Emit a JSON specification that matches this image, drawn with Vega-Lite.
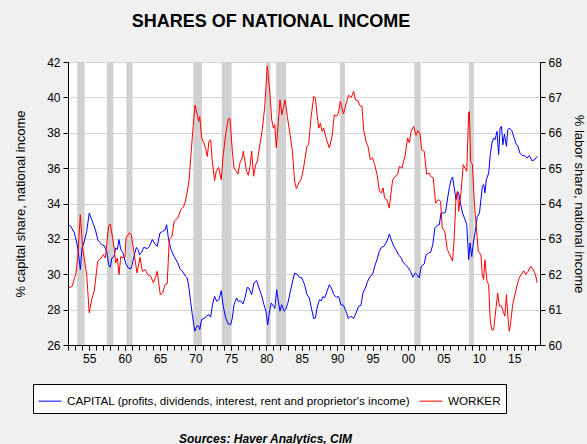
{
  "$schema": "https://vega.github.io/schema/vega-lite/v6.json",
  "width": 472,
  "height": 283,
  "autosize": "none",
  "padding": {"left": 68, "top": 62, "right": 47, "bottom": 99},
  "background": "#f0f0f0",
  "config": {
    "font": "Liberation Sans",
    "view": {"fill": "white", "stroke": "black", "strokeWidth": 1},
    "axis": {"labelFont": "Liberation Sans", "labelColor": "black", "titleColor": "black", "titleFont": "Liberation Sans", "titleFontWeight": "normal", "domainColor": "black", "tickColor": "black"}
  },
  "title": {
    "text": "SHARES OF NATIONAL INCOME",
    "font": "Liberation Sans",
    "fontSize": 18,
    "fontWeight": "bold",
    "color": "black",
    "anchor": "middle",
    "frame": "group",
    "dx": -33,
    "offset": 25
  },
  "datasets": {
    "recessions": [
      {"start": 1953.3, "end": 1954.35},
      {"start": 1957.5, "end": 1958.4},
      {"start": 1960.25, "end": 1961.1},
      {"start": 1969.7, "end": 1970.9},
      {"start": 1973.7, "end": 1975.1},
      {"start": 1979.95, "end": 1980.6},
      {"start": 1981.4, "end": 1982.8},
      {"start": 1990.4, "end": 1991.1},
      {"start": 2000.9, "end": 2001.8},
      {"start": 2008.6, "end": 2009.3}
    ],
    "capital": [
      {"t":1952.1,"v":32.8},{"t":1952.4,"v":32.71},{"t":1952.9,"v":32.33},{"t":1953.3,"v":31.67},{"t":1953.5,"v":31.1},{"t":1953.74,"v":30.26},{"t":1953.98,"v":31.49},{"t":1954.3,"v":31.86},{"t":1954.64,"v":32.43},{"t":1955.0,"v":33.46},{"t":1955.25,"v":33.2},{"t":1955.6,"v":32.8},{"t":1955.88,"v":32.5},{"t":1956.2,"v":31.96},{"t":1956.45,"v":31.8},{"t":1956.8,"v":31.67},{"t":1957.13,"v":31.6},{"t":1957.46,"v":31.3},{"t":1957.74,"v":30.54},{"t":1957.97,"v":30.4},{"t":1958.2,"v":30.92},{"t":1958.5,"v":31.0},{"t":1958.73,"v":31.49},{"t":1958.97,"v":31.4},{"t":1959.2,"v":31.96},{"t":1959.45,"v":31.4},{"t":1959.77,"v":31.2},{"t":1960.13,"v":30.64},{"t":1960.5,"v":30.36},{"t":1960.85,"v":30.3},{"t":1961.07,"v":30.54},{"t":1961.3,"v":31.0},{"t":1961.65,"v":31.52},{"t":1961.93,"v":31.35},{"t":1962.1,"v":31.1},{"t":1962.4,"v":31.25},{"t":1962.7,"v":31.52},{"t":1963.2,"v":31.45},{"t":1963.5,"v":31.58},{"t":1963.9,"v":31.96},{"t":1964.3,"v":31.7},{"t":1964.6,"v":31.58},{"t":1964.98,"v":32.33},{"t":1965.36,"v":32.43},{"t":1965.7,"v":32.5},{"t":1965.93,"v":32.8},{"t":1966.2,"v":31.96},{"t":1966.54,"v":31.39},{"t":1967.0,"v":31.0},{"t":1967.5,"v":30.64},{"t":1967.86,"v":30.26},{"t":1968.2,"v":30.15},{"t":1968.56,"v":29.9},{"t":1968.85,"v":29.79},{"t":1969.08,"v":29.22},{"t":1969.3,"v":28.47},{"t":1969.55,"v":27.72},{"t":1969.9,"v":26.78},{"t":1970.17,"v":27.06},{"t":1970.4,"v":27.1},{"t":1970.6,"v":26.87},{"t":1970.87,"v":27.44},{"t":1971.2,"v":27.5},{"t":1971.56,"v":27.63},{"t":1971.9,"v":27.72},{"t":1972.14,"v":27.57},{"t":1972.4,"v":28.28},{"t":1972.7,"v":28.75},{"t":1973.0,"v":28.47},{"t":1973.3,"v":28.56},{"t":1973.64,"v":29.07},{"t":1973.92,"v":28.19},{"t":1974.26,"v":27.53},{"t":1974.63,"v":27.19},{"t":1974.97,"v":27.15},{"t":1975.2,"v":27.53},{"t":1975.44,"v":28.28},{"t":1975.8,"v":28.66},{"t":1976.05,"v":28.47},{"t":1976.37,"v":28.5},{"t":1976.7,"v":28.32},{"t":1976.98,"v":28.66},{"t":1977.3,"v":29.26},{"t":1977.55,"v":29.22},{"t":1977.93,"v":28.85},{"t":1978.26,"v":29.51},{"t":1978.64,"v":29.64},{"t":1978.97,"v":29.22},{"t":1979.3,"v":28.85},{"t":1979.67,"v":28.28},{"t":1979.95,"v":27.91},{"t":1980.2,"v":27.15},{"t":1980.42,"v":27.81},{"t":1980.7,"v":28.38},{"t":1981.0,"v":28.19},{"t":1981.2,"v":28.06},{"t":1981.46,"v":29.13},{"t":1981.7,"v":28.47},{"t":1981.93,"v":27.91},{"t":1982.17,"v":28.28},{"t":1982.5,"v":27.91},{"t":1982.73,"v":28.0},{"t":1983.05,"v":28.38},{"t":1983.4,"v":29.04},{"t":1983.73,"v":29.64},{"t":1984.0,"v":30.07},{"t":1984.3,"v":30.02},{"t":1984.65,"v":29.83},{"t":1985.0,"v":29.8},{"t":1985.4,"v":29.41},{"t":1985.74,"v":28.85},{"t":1986.07,"v":28.66},{"t":1986.36,"v":28.09},{"t":1986.69,"v":27.49},{"t":1986.93,"v":27.53},{"t":1987.16,"v":28.09},{"t":1987.5,"v":28.56},{"t":1987.77,"v":28.5},{"t":1988.0,"v":28.75},{"t":1988.24,"v":28.66},{"t":1988.57,"v":29.04},{"t":1988.9,"v":29.41},{"t":1989.19,"v":29.22},{"t":1989.52,"v":28.85},{"t":1989.9,"v":28.7},{"t":1990.2,"v":28.75},{"t":1990.53,"v":28.28},{"t":1990.9,"v":28.24},{"t":1991.24,"v":27.91},{"t":1991.6,"v":27.49},{"t":1991.95,"v":27.63},{"t":1992.33,"v":27.49},{"t":1992.66,"v":27.81},{"t":1993.03,"v":28.19},{"t":1993.36,"v":28.24},{"t":1993.64,"v":28.94},{"t":1993.98,"v":29.22},{"t":1994.3,"v":29.6},{"t":1994.68,"v":29.89},{"t":1995.0,"v":29.98},{"t":1995.3,"v":30.45},{"t":1995.63,"v":30.83},{"t":1995.96,"v":31.3},{"t":1996.25,"v":31.52},{"t":1996.6,"v":31.58},{"t":1996.9,"v":31.77},{"t":1997.2,"v":32.05},{"t":1997.36,"v":32.28},{"t":1997.64,"v":31.96},{"t":1997.98,"v":31.58},{"t":1998.3,"v":31.39},{"t":1998.7,"v":31.07},{"t":1999.0,"v":30.96},{"t":1999.3,"v":30.69},{"t":1999.62,"v":30.54},{"t":2000.0,"v":30.39},{"t":2000.34,"v":30.17},{"t":2000.7,"v":29.83},{"t":2001.04,"v":30.07},{"t":2001.27,"v":29.98},{"t":2001.6,"v":29.79},{"t":2001.88,"v":30.45},{"t":2002.28,"v":30.58},{"t":2002.56,"v":31.1},{"t":2002.9,"v":31.2},{"t":2003.2,"v":31.25},{"t":2003.5,"v":31.67},{"t":2003.8,"v":32.62},{"t":2004.14,"v":32.77},{"t":2004.42,"v":32.8},{"t":2004.66,"v":33.46},{"t":2005.0,"v":33.46},{"t":2005.3,"v":33.5},{"t":2005.6,"v":34.31},{"t":2005.88,"v":34.97},{"t":2006.1,"v":35.35},{"t":2006.3,"v":35.5},{"t":2006.53,"v":34.88},{"t":2006.78,"v":34.22},{"t":2007.0,"v":34.69},{"t":2007.2,"v":34.5},{"t":2007.45,"v":33.94},{"t":2007.7,"v":33.46},{"t":2008.06,"v":33.09},{"t":2008.3,"v":32.8},{"t":2008.57,"v":30.83},{"t":2008.76,"v":31.77},{"t":2009.0,"v":31.0},{"t":2009.2,"v":31.67},{"t":2009.5,"v":32.43},{"t":2009.8,"v":33.28},{"t":2010.1,"v":33.46},{"t":2010.3,"v":34.22},{"t":2010.5,"v":34.97},{"t":2010.7,"v":35.07},{"t":2010.87,"v":34.6},{"t":2011.06,"v":35.35},{"t":2011.4,"v":35.73},{"t":2011.62,"v":36.76},{"t":2011.86,"v":37.42},{"t":2012.1,"v":37.7},{"t":2012.3,"v":37.61},{"t":2012.57,"v":38.08},{"t":2012.8,"v":36.76},{"t":2013.0,"v":38.27},{"t":2013.2,"v":38.36},{"t":2013.4,"v":37.32},{"t":2013.62,"v":37.93},{"t":2013.9,"v":37.23},{"t":2014.1,"v":38.17},{"t":2014.3,"v":38.27},{"t":2014.66,"v":38.12},{"t":2015.0,"v":37.7},{"t":2015.3,"v":37.32},{"t":2015.5,"v":37.28},{"t":2015.8,"v":36.85},{"t":2016.14,"v":36.71},{"t":2016.5,"v":36.7},{"t":2016.8,"v":36.57},{"t":2017.15,"v":36.71},{"t":2017.5,"v":36.42},{"t":2017.9,"v":36.48},{"t":2018.24,"v":36.67}
    ],
    "worker": [
      {"t":1952.1,"v":61.61},{"t":1952.6,"v":61.66},{"t":1952.9,"v":61.89},{"t":1953.1,"v":61.99},{"t":1953.37,"v":62.46},{"t":1953.74,"v":63.68},{"t":1954.07,"v":62.74},{"t":1954.64,"v":61.99},{"t":1955.0,"v":60.91},{"t":1955.39,"v":61.33},{"t":1955.7,"v":61.52},{"t":1956.2,"v":62.37},{"t":1956.66,"v":62.46},{"t":1956.98,"v":62.55},{"t":1957.27,"v":62.46},{"t":1957.74,"v":63.36},{"t":1957.97,"v":63.42},{"t":1958.3,"v":63.03},{"t":1958.5,"v":62.74},{"t":1958.73,"v":62.32},{"t":1958.97,"v":62.46},{"t":1959.2,"v":61.99},{"t":1959.45,"v":62.5},{"t":1959.77,"v":62.46},{"t":1960.05,"v":62.48},{"t":1960.2,"v":63.03},{"t":1960.66,"v":63.17},{"t":1960.94,"v":63.12},{"t":1961.36,"v":62.55},{"t":1961.74,"v":62.04},{"t":1962.17,"v":62.48},{"t":1962.5,"v":62.08},{"t":1962.9,"v":62.13},{"t":1963.25,"v":61.99},{"t":1963.7,"v":61.94},{"t":1964.05,"v":61.76},{"t":1964.4,"v":61.94},{"t":1964.6,"v":62.08},{"t":1965.03,"v":61.42},{"t":1965.36,"v":61.47},{"t":1965.7,"v":61.71},{"t":1966.0,"v":61.73},{"t":1966.3,"v":62.98},{"t":1966.68,"v":63.08},{"t":1967.0,"v":63.5},{"t":1967.5,"v":63.59},{"t":1967.95,"v":63.83},{"t":1968.3,"v":63.9},{"t":1968.56,"v":64.05},{"t":1968.85,"v":64.35},{"t":1969.08,"v":64.63},{"t":1969.4,"v":65.48},{"t":1969.69,"v":66.23},{"t":1969.93,"v":66.78},{"t":1970.26,"v":66.51},{"t":1970.45,"v":66.32},{"t":1970.6,"v":66.46},{"t":1970.87,"v":65.85},{"t":1971.2,"v":65.71},{"t":1971.44,"v":65.55},{"t":1971.67,"v":65.33},{"t":1971.9,"v":65.76},{"t":1972.14,"v":65.8},{"t":1972.37,"v":65.19},{"t":1972.7,"v":64.65},{"t":1972.93,"v":64.91},{"t":1973.26,"v":65.02},{"t":1973.64,"v":64.67},{"t":1973.92,"v":65.38},{"t":1974.26,"v":65.95},{"t":1974.63,"v":66.39},{"t":1974.87,"v":66.4},{"t":1975.2,"v":65.48},{"t":1975.44,"v":65.0},{"t":1975.77,"v":64.91},{"t":1976.0,"v":64.83},{"t":1976.28,"v":65.15},{"t":1976.6,"v":65.29},{"t":1976.75,"v":65.48},{"t":1976.98,"v":65.19},{"t":1977.2,"v":64.91},{"t":1977.46,"v":64.8},{"t":1977.7,"v":65.05},{"t":1977.93,"v":65.48},{"t":1978.2,"v":64.77},{"t":1978.5,"v":65.1},{"t":1978.74,"v":65.2},{"t":1979.06,"v":65.62},{"t":1979.43,"v":66.09},{"t":1979.76,"v":66.7},{"t":1980.14,"v":67.88},{"t":1980.52,"v":67.08},{"t":1980.76,"v":66.37},{"t":1981.0,"v":66.13},{"t":1981.2,"v":66.23},{"t":1981.41,"v":65.57},{"t":1981.7,"v":66.32},{"t":1981.93,"v":66.93},{"t":1982.2,"v":66.51},{"t":1982.64,"v":66.93},{"t":1982.97,"v":66.46},{"t":1983.35,"v":65.95},{"t":1983.68,"v":65.48},{"t":1984.0,"v":64.63},{"t":1984.24,"v":64.42},{"t":1984.6,"v":64.58},{"t":1984.95,"v":64.7},{"t":1985.22,"v":64.96},{"t":1985.74,"v":65.62},{"t":1985.98,"v":65.67},{"t":1986.31,"v":66.42},{"t":1986.69,"v":67.03},{"t":1986.93,"v":66.98},{"t":1987.16,"v":66.51},{"t":1987.4,"v":66.13},{"t":1987.63,"v":66.27},{"t":1987.87,"v":66.04},{"t":1988.1,"v":66.13},{"t":1988.43,"v":65.85},{"t":1988.9,"v":65.57},{"t":1989.28,"v":65.9},{"t":1989.6,"v":66.51},{"t":1989.88,"v":66.46},{"t":1990.2,"v":66.56},{"t":1990.44,"v":66.89},{"t":1990.68,"v":66.7},{"t":1990.9,"v":66.53},{"t":1991.24,"v":66.8},{"t":1991.6,"v":67.06},{"t":1992.0,"v":67.0},{"t":1992.33,"v":67.17},{"t":1992.57,"v":66.93},{"t":1992.94,"v":66.9},{"t":1993.27,"v":66.75},{"t":1993.5,"v":66.75},{"t":1993.74,"v":66.09},{"t":1994.07,"v":65.76},{"t":1994.35,"v":65.62},{"t":1994.68,"v":65.24},{"t":1995.0,"v":65.29},{"t":1995.3,"v":65.1},{"t":1995.63,"v":64.82},{"t":1995.96,"v":64.35},{"t":1996.25,"v":64.3},{"t":1996.48,"v":64.44},{"t":1996.7,"v":64.16},{"t":1997.03,"v":64.11},{"t":1997.36,"v":63.87},{"t":1997.64,"v":64.35},{"t":1997.84,"v":64.67},{"t":1998.2,"v":64.77},{"t":1998.54,"v":64.82},{"t":1998.78,"v":65.05},{"t":1999.15,"v":65.0},{"t":1999.62,"v":65.38},{"t":1999.95,"v":65.85},{"t":2000.2,"v":65.71},{"t":2000.43,"v":66.04},{"t":2000.8,"v":66.18},{"t":2001.13,"v":65.93},{"t":2001.41,"v":66.06},{"t":2001.7,"v":65.96},{"t":2001.94,"v":65.52},{"t":2002.28,"v":65.48},{"t":2002.64,"v":64.83},{"t":2003.0,"v":64.86},{"t":2003.2,"v":64.77},{"t":2003.57,"v":64.72},{"t":2003.9,"v":64.01},{"t":2004.28,"v":64.11},{"t":2004.6,"v":64.06},{"t":2004.84,"v":63.31},{"t":2005.2,"v":63.21},{"t":2005.55,"v":62.7},{"t":2005.9,"v":62.55},{"t":2006.3,"v":62.37},{"t":2006.53,"v":63.03},{"t":2006.78,"v":64.16},{"t":2007.0,"v":64.35},{"t":2007.16,"v":63.78},{"t":2007.45,"v":64.25},{"t":2007.81,"v":65.1},{"t":2008.06,"v":65.0},{"t":2008.3,"v":64.91},{"t":2008.57,"v":66.56},{"t":2008.67,"v":66.6},{"t":2008.85,"v":65.19},{"t":2009.1,"v":65.1},{"t":2009.36,"v":64.06},{"t":2009.7,"v":63.21},{"t":2009.93,"v":62.65},{"t":2010.3,"v":62.55},{"t":2010.49,"v":61.99},{"t":2010.68,"v":61.85},{"t":2010.87,"v":62.41},{"t":2011.15,"v":61.8},{"t":2011.39,"v":61.71},{"t":2011.62,"v":60.67},{"t":2011.86,"v":60.43},{"t":2012.1,"v":60.43},{"t":2012.38,"v":60.96},{"t":2012.67,"v":61.47},{"t":2012.9,"v":61.1},{"t":2013.2,"v":61.1},{"t":2013.43,"v":60.96},{"t":2013.67,"v":60.82},{"t":2013.9,"v":61.42},{"t":2014.14,"v":60.73},{"t":2014.3,"v":60.39},{"t":2014.5,"v":60.63},{"t":2014.78,"v":61.14},{"t":2015.1,"v":61.42},{"t":2015.43,"v":61.71},{"t":2015.7,"v":61.89},{"t":2016.0,"v":62.0},{"t":2016.35,"v":62.1},{"t":2016.63,"v":62.0},{"t":2016.96,"v":62.08},{"t":2017.34,"v":62.23},{"t":2017.67,"v":62.13},{"t":2018.0,"v":61.99},{"t":2018.24,"v":61.76}
    ]
  },
  "layer": [
    {
      "data": {"name": "recessions"},
      "mark": {"type": "rect", "color": "#d0d0d0"},
      "encoding": {
        "x": {
          "field": "start", "type": "quantitative",
          "scale": {"domain": [1952, 2018.64], "nice": false, "zero": false},
          "axis": {
            "orient": "bottom",
            "title": null,
            "values": [1952,1953,1954,1955,1956,1957,1958,1959,1960,1961,1962,1963,1964,1965,1966,1967,1968,1969,1970,1971,1972,1973,1974,1975,1976,1977,1978,1979,1980,1981,1982,1983,1984,1985,1986,1987,1988,1989,1990,1991,1992,1993,1994,1995,1996,1997,1998,1999,2000,2001,2002,2003,2004,2005,2006,2007,2008,2009,2010,2011,2012,2013,2014,2015,2016,2017,2018],
            "labels": false, "tickSize": 5, "grid": false
          }
        },
        "x2": {"field": "end"}
      }
    },
    {
      "data": {"name": "capital"},
      "transform": [{"calculate": "'CAPITAL (profits, dividends, interest, rent and proprietor\\'s income)'", "as": "series"}],
      "mark": {"type": "line", "strokeWidth": 1},
      "encoding": {
        "x": {
          "field": "t", "type": "quantitative",
          "axis": {
            "orient": "bottom",
            "title": "Sources:  Haver Analytics, CIM",
            "titleFontSize": 12, "titleFontStyle": "italic", "titleFontWeight": "bold",
            "titleX": 197, "titleY": 97, "titleBaseline": "alphabetic", "titleAlign": "center", "titleAnchor": null,
            "values": [1955,1960,1965,1970,1975,1980,1985,1990,1995,2000,2005,2010,2015],
            "labelExpr": "substring(toString(datum.value), 2)",
            "labelOverlap": false, "labelFlush": false, "labelFontSize": 12, "labelPadding": 3,
            "tickSize": 5, "grid": false
          }
        },
        "y": {
          "field": "v", "type": "quantitative",
          "scale": {"domain": [26, 42], "nice": false, "zero": false},
          "axis": {"title": "% capital share, national income", "orient": "left", "values": [26,28,30,32,34,36,38,40,42], "grid": true, "gridColor": "#d4d4d4", "labelFontSize": 12, "tickSize": 5, "labelPadding": 3, "titleFontSize": 13, "titlePadding": 19}
        },
        "color": {
          "field": "series", "type": "nominal",
          "scale": {"domain": ["CAPITAL (profits, dividends, interest, rent and proprietor's income)", "WORKER"], "range": ["#0000ff", "#ff0000"]},
          "legend": {"orient": "none", "legendX": -35, "legendY": 322, "direction": "horizontal", "title": null, "fillColor": "white", "strokeColor": "black", "padding": 5, "symbolType": "stroke", "symbolSize": 529, "symbolStrokeWidth": 1, "labelFont": "Liberation Sans", "labelFontSize": 11.7, "labelColor": "black", "labelOffset": 5, "columnPadding": 6, "labelLimit": 600}
        }
      }
    },
    {
      "data": {"name": "worker"},
      "transform": [{"calculate": "'WORKER'", "as": "series"}],
      "mark": {"type": "line", "strokeWidth": 1},
      "encoding": {
        "x": {"field": "t", "type": "quantitative", "axis": null},
        "y": {
          "field": "v", "type": "quantitative",
          "scale": {"domain": [60, 68], "nice": false, "zero": false},
          "axis": {"title": "% labor share, national income", "orient": "right", "values": [60,61,62,63,64,65,66,67,68], "grid": false, "labelFontSize": 12, "tickSize": 5, "labelPadding": 3, "titleFontSize": 13, "titlePadding": 10}
        },
        "color": {"field": "series", "type": "nominal"}
      }
    }
  ],
  "resolve": {"scale": {"y": "independent"}, "axis": {"x": "independent"}}
}
